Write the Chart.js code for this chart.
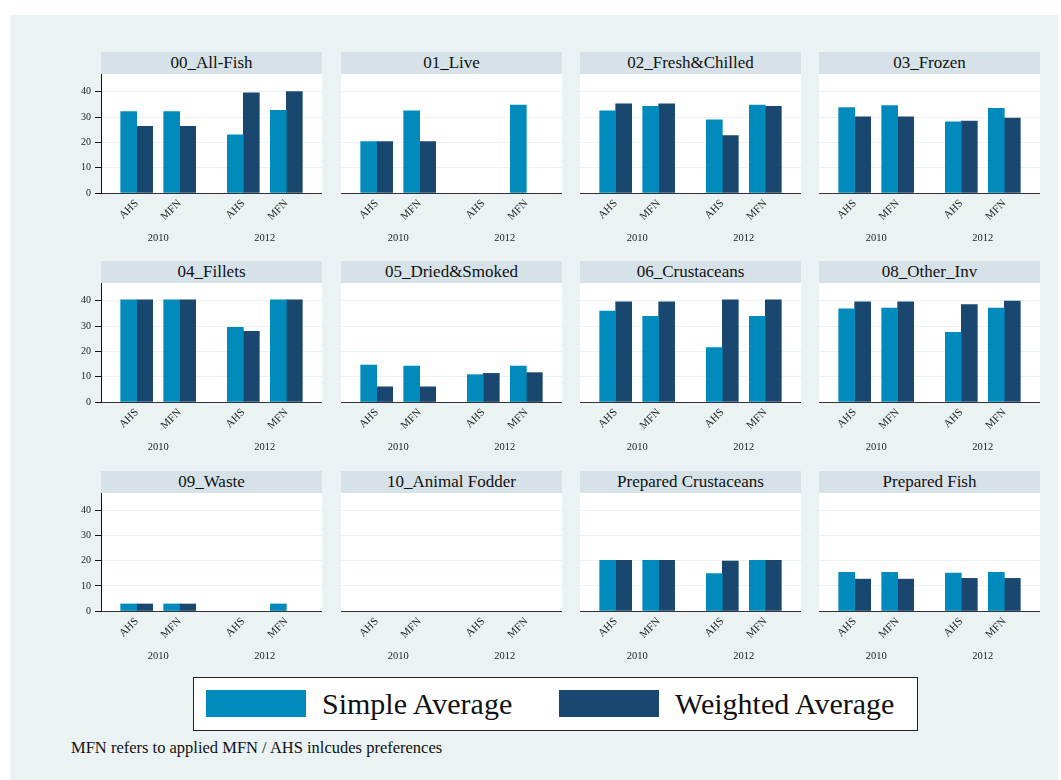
<!DOCTYPE html>
<html>
<head>
<meta charset="utf-8">
<script src="https://cdn.jsdelivr.net/npm/chart.js@4/dist/chart.umd.min.js"></script>
<style>
  body { margin: 0; background: #fff; width: 1061px; height: 780px; overflow: hidden; position: relative; font-family: "Liberation Serif", serif; }
  #bg { position: absolute; left: 10px; top: 15px; width: 1048px; height: 765px; background: #eaf2f3; }
  .strip { position: absolute; height: 22px; background: #d6e2e7; color: #111; font-size: 17px; line-height: 22px; text-align: center; white-space: nowrap; }
  canvas { position: absolute; }
  #legend { position: absolute; left: 193px; top: 677px; width: 723px; height: 52px; background: #fff; border: 1px solid #222; }
  .sw { position: absolute; top: 12px; width: 100px; height: 27px; }
  .lt { position: absolute; top: 0; height: 52px; line-height: 52px; font-size: 30px; color: #111; white-space: nowrap; }
  #note { position: absolute; left: 71px; top: 738px; font-size: 16.5px; color: #111; white-space: nowrap; }
</style>
</head>
<body>
<div id="bg"></div>
<div id="panels"></div>
<div id="legend"></div>
<div id="note">MFN refers to applied MFN / AHS inlcudes preferences</div>
<script>
// Product groups, one small panel each
const panelTitles = [
  '00_All-Fish', '01_Live', '02_Fresh&Chilled', '03_Frozen',
  '04_Fillets', '05_Dried&Smoked', '06_Crustaceans', '08_Other_Inv',
  '09_Waste', '10_Animal Fodder', 'Prepared Crustaceans', 'Prepared Fish'
];
const years = ['2010', '2012'];
const tariffTypes = ['AHS', 'MFN'];
const seriesNames = ['Simple Average', 'Weighted Average'];
const yTicks = [0, 10, 20, 30, 40];

// Each row: AHS 2010, MFN 2010, AHS 2012, MFN 2012 (null = not reported)
const simpleAvg = [
  [32.2, 32.2, 23.0, 32.7],
  [20.3, 32.5, null, 34.7],
  [32.5, 34.2, 28.9, 34.7],
  [33.7, 34.5, 28.1, 33.4],
  [40.4, 40.4, 29.5, 40.4],
  [14.6, 14.2, 10.8, 14.2],
  [35.9, 33.8, 21.5, 33.8],
  [36.8, 37.1, 27.5, 37.1],
  [2.8, 2.8, null, 2.8],
  [null, null, null, null],
  [20.2, 20.2, 14.9, 20.2],
  [15.4, 15.4, 15.1, 15.4]
];
const weightedAvg = [
  [26.3, 26.3, 39.6, 40.1],
  [20.3, 20.3, null, null],
  [35.2, 35.2, 22.7, 34.2],
  [30.1, 30.1, 28.4, 29.6],
  [40.4, 40.4, 27.9, 40.4],
  [6.0, 6.0, 11.3, 11.6],
  [39.6, 39.6, 40.4, 40.4],
  [39.6, 39.6, 38.5, 39.9],
  [2.8, 2.8, null, null],
  [null, null, null, null],
  [20.2, 20.2, 19.9, 20.2],
  [12.7, 12.7, 13.0, 13.0]
];

const seriesValues = [simpleAvg, weightedAvg];
const seriesColors = ['#008bbc', '#1a476f'];
const FONT = 'Liberation Serif';

// Layout of the 3 x 4 grid
const colLeft = [101, 341, 580, 819];
const PANEL_W = 221;
const plotTop = [74, 283, 493];
const plotBottom = [193, 402, 611];
const Y_AXIS_W = 51;
const BOTTOM_H = 60;

// Tariff types sit side by side within a year; years are separated by a wider gap
const YEAR_STEP = 2.48;
const slotPos = i => Math.floor(i / 2) * YEAR_STEP + (i % 2);
const X_MIN = -0.83, X_MAX = YEAR_STEP + 1 + 0.83;

const plotBackground = {
  id: 'plotBackground',
  beforeDraw(chart) {
    const { ctx, chartArea: a } = chart;
    ctx.save();
    ctx.fillStyle = '#ffffff';
    ctx.fillRect(a.left, a.top, a.right - a.left, a.bottom - a.top);
    ctx.restore();
  }
};

const host = document.getElementById('panels');

panelTitles.forEach((title, p) => {
  const r = Math.floor(p / 4), c = p % 4;
  const showY = c === 0;

  const strip = document.createElement('div');
  strip.className = 'strip';
  strip.style.left = colLeft[c] + 'px';
  strip.style.top = (plotTop[r] - 22) + 'px';
  strip.style.width = PANEL_W + 'px';
  strip.textContent = title;
  host.appendChild(strip);

  const yw = showY ? Y_AXIS_W : 0;
  const cv = document.createElement('canvas');
  const w = PANEL_W + yw;
  const h = plotBottom[r] - plotTop[r] + BOTTOM_H;
  cv.width = w; cv.height = h;
  cv.style.width = w + 'px'; cv.style.height = h + 'px';
  cv.style.left = (colLeft[c] - yw) + 'px';
  cv.style.top = plotTop[r] + 'px';
  host.appendChild(cv);

  new Chart(cv, {
    type: 'bar',
    data: {
      datasets: seriesValues.map((vals, s) => ({
        label: seriesNames[s],
        data: vals[p].map((v, i) => ({ x: slotPos(i), y: v })),
        backgroundColor: seriesColors[s],
        borderWidth: 0,
        barThickness: 16
      }))
    },
    options: {
      animation: false,
      responsive: false,
      devicePixelRatio: 1,
      layout: { padding: 0 },
      plugins: { legend: { display: false }, tooltip: { enabled: false } },
      scales: {
        x: {
          type: 'linear', min: X_MIN, max: X_MAX, offset: false, position: 'bottom', weight: 0,
          grid: { display: false, drawTicks: false, offset: false },
          border: { display: true, color: '#333', width: 1 },
          ticks: {
            autoSkip: false, minRotation: 45, maxRotation: 45, padding: 4,
            color: '#222', font: { family: FONT, size: 11 },
            callback: (v, i) => tariffTypes[i % 2]
          },
          afterBuildTicks: s => { s.ticks = [0, 1, 2, 3].map(i => ({ value: slotPos(i) })); },
          afterFit: s => { s.height = 30; s.paddingLeft = 0; s.paddingRight = 0; }
        },
        yr: {
          type: 'linear', min: X_MIN, max: X_MAX, offset: false, position: 'bottom', weight: 1,
          grid: { display: false, drawTicks: false, offset: false },
          border: { display: false },
          ticks: {
            autoSkip: false, minRotation: 0, maxRotation: 0, padding: 9,
            color: '#222', font: { family: FONT, size: 10.5 },
            callback: (v, i) => years[i]
          },
          afterBuildTicks: s => { s.ticks = years.map((y, k) => ({ value: (slotPos(2 * k) + slotPos(2 * k + 1)) / 2 })); },
          afterFit: s => { s.height = BOTTOM_H - 30; s.paddingLeft = 0; s.paddingRight = 0; }
        },
        y: {
          min: 0, max: 47,
          grid: { color: '#eaf2f3', lineWidth: 1, drawTicks: showY, tickLength: 6, tickColor: '#111' },
          border: { display: showY, color: '#111', width: 1 },
          ticks: { display: showY, padding: 4, color: '#222', font: { family: FONT, size: 10 } },
          afterBuildTicks: s => { s.ticks = yTicks.map(v => ({ value: v })); },
          afterFit: s => { s.width = yw; s.paddingTop = 0; s.paddingBottom = 0; }
        }
      }
    },
    plugins: [plotBackground]
  });
});

// Shared key for both series
const legend = document.getElementById('legend');
const keyX = [[12, 128], [365, 481]];
seriesNames.forEach((name, s) => {
  const sw = document.createElement('div');
  sw.className = 'sw';
  sw.style.left = keyX[s][0] + 'px';
  sw.style.background = seriesColors[s];
  legend.appendChild(sw);
  const t = document.createElement('div');
  t.className = 'lt';
  t.style.left = keyX[s][1] + 'px';
  t.textContent = name;
  legend.appendChild(t);
});
</script>
</body>
</html>
